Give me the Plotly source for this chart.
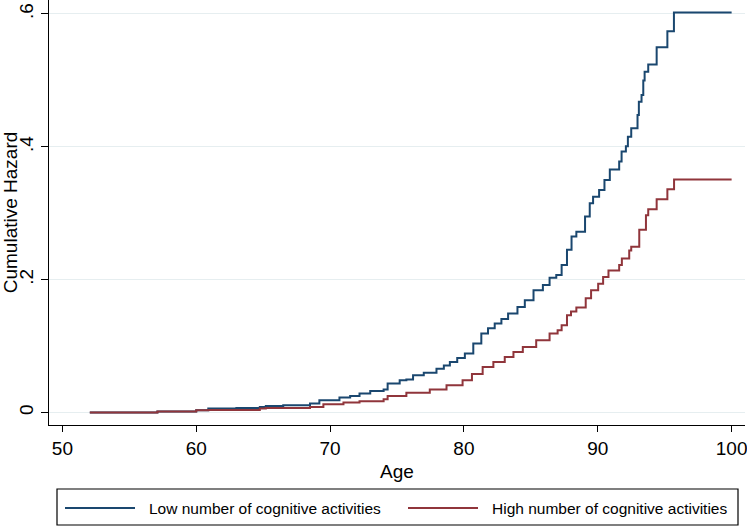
import plotly.graph_objects as go

# ---- data ----
low_age = [52.05, 57.1, 60.0, 60.9, 63.0, 64.75, 65.2, 66.5, 68.5, 69.2, 70.7, 71.5, 72.2, 73.0,
           74.0, 74.3, 75.2, 75.7, 76.2, 77.0, 77.95, 78.5, 78.95, 79.5, 80.07, 80.7, 81.3, 81.8,
           82.3, 82.8, 83.3, 84.0, 84.55, 85.2, 85.9, 86.4, 86.9, 87.3, 87.7, 88.04, 88.4, 89.05,
           89.4, 89.65, 90.1, 90.5, 90.9, 91.6, 91.78, 92.1, 92.25, 92.5, 92.97, 93.07, 93.27,
           93.4, 93.5, 93.77, 94.4, 95.2, 95.69, 100.0]
low_haz = [0.0, 0.0015, 0.0035, 0.006, 0.007, 0.0085, 0.010, 0.011, 0.0135, 0.0185, 0.0226, 0.025,
           0.0286, 0.0325, 0.0346, 0.0437, 0.0487, 0.0497, 0.056, 0.060, 0.066, 0.071, 0.076, 0.082,
           0.089, 0.104, 0.119, 0.127, 0.134, 0.141, 0.149, 0.159, 0.169, 0.184, 0.192, 0.203, 0.207,
           0.222, 0.245, 0.265, 0.272, 0.295, 0.315, 0.325, 0.335, 0.350, 0.366, 0.378, 0.393, 0.401,
           0.415, 0.428, 0.448, 0.468, 0.478, 0.500, 0.513, 0.524, 0.550, 0.574, 0.602, 0.602]

high_age = [52.05, 57.1, 60.0, 60.9, 64.75, 65.2, 68.5, 69.5, 71.0, 72.2, 74.0, 74.3, 75.7, 77.45,
            78.7, 79.9, 80.6, 81.4, 82.2, 83.05, 83.7, 84.4, 85.4, 86.4, 87.0, 87.3, 87.7, 88.0,
            88.4, 89.1, 89.5, 90.03, 90.4, 90.8, 91.6, 91.8, 92.35, 92.5, 93.1, 93.6, 93.77, 94.4,
            95.2, 95.7, 100.0]
high_haz = [0.0, 0.0015, 0.0035, 0.004, 0.006, 0.007, 0.0085, 0.0125, 0.015, 0.017, 0.020, 0.025,
            0.030, 0.0346, 0.041, 0.0487, 0.058, 0.0687, 0.076, 0.0838, 0.091, 0.0988, 0.109, 0.119,
            0.124, 0.1315, 0.1466, 0.152, 0.158, 0.172, 0.184, 0.194, 0.204, 0.214, 0.222, 0.232,
            0.244, 0.2495, 0.275, 0.297, 0.306, 0.321, 0.336, 0.351, 0.351]

series_names = ["Low number of cognitive activities", "High number of cognitive activities"]
series_colors = ["#1a476f", "#90353b"]

y_tickvals = [0, 0.2, 0.4, 0.6]
y_ticktext = ["0", ".2", ".4", ".6"]
x_tickvals = [50, 60, 70, 80, 90, 100]

FONT = "Liberation Sans, Arial, Helvetica, sans-serif"

fig = go.Figure()
for ages, haz, name, col in [(low_age, low_haz, series_names[0], series_colors[0]),
                             (high_age, high_haz, series_names[1], series_colors[1])]:
    fig.add_trace(go.Scatter(x=ages, y=haz, mode="lines", line_shape="hv",
                             line=dict(color=col, width=2), name=name, showlegend=False,
                             hoverinfo="skip"))

fig.update_layout(
    width=747, height=527,
    margin=dict(l=49, r=2, t=0, b=102),
    paper_bgcolor="white", plot_bgcolor="white",
    font=dict(family=FONT, color="black", size=18),
    xaxis=dict(range=[49.0, 101.0], tickvals=x_tickvals, ticks="outside", ticklen=6,
               tickcolor="black", showline=True, linecolor="black", linewidth=1.2,
               showgrid=False, zeroline=False, tickfont=dict(size=19),
               ticklabeloverflow="allow",
               title=dict(text="Age", font=dict(size=19), standoff=6)),
    yaxis=dict(range=[-0.0187, 0.621], tickvals=y_tickvals, ticktext=y_ticktext,
               ticks="outside", ticklen=7, tickcolor="black", tickangle=-90,
               showline=True, linecolor="black", linewidth=1.2,
               showgrid=True, gridcolor="#e6eef0", gridwidth=1, zeroline=False,
               tickfont=dict(size=19), ticklabeloverflow="allow",
               title=dict(text="Cumulative Hazard", font=dict(size=19), standoff=4)),
)

# legend drawn manually (Stata style box at bottom)
def px_x(p):
    return (p - 49) / 696.0

def px_y(p):
    return (425 - p) / 425.0

fig.add_shape(type="rect", xref="paper", yref="paper",
              x0=px_x(57), x1=px_x(738), y0=px_y(525), y1=px_y(489),
              line=dict(color="black", width=1.2), fillcolor="white", layer="above")
for i, (x0, x1, tx) in enumerate([(65, 135, 147), (408, 478, 490)]):
    fig.add_shape(type="line", xref="paper", yref="paper",
                  x0=px_x(x0), x1=px_x(x1), y0=px_y(508), y1=px_y(508),
                  line=dict(color=series_colors[i], width=2))
    fig.add_annotation(xref="paper", yref="paper", x=px_x(tx), y=px_y(508),
                       text=series_names[i], showarrow=False, xanchor="left",
                       yanchor="middle", font=dict(size=15.5, color="black"))

fig.write_html("out.html", config={"displayModeBar": False},
               post_script="document.body.style.margin='0';")
